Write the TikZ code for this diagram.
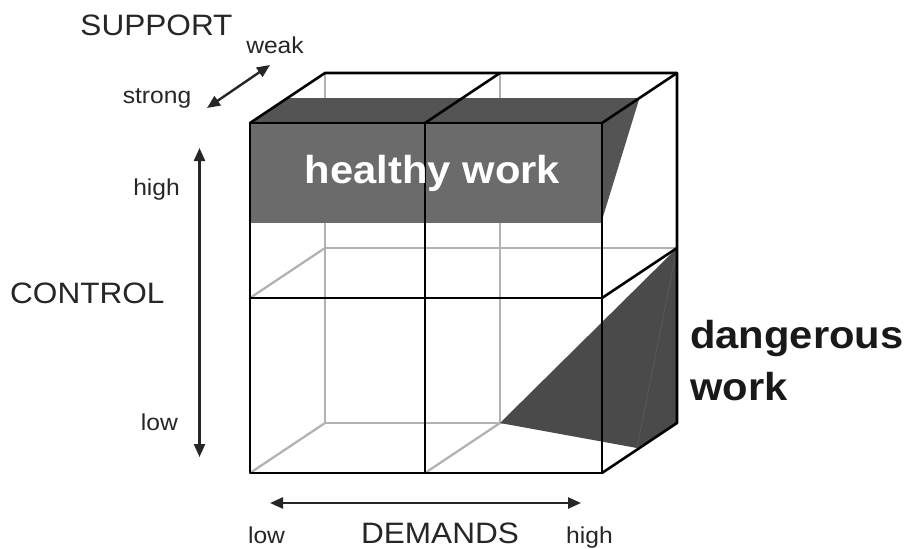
\documentclass[tikz,border=0pt]{standalone}
\usepackage{fontspec}
\setmainfont[FakeStretch=1.07]{Liberation Sans}
\usetikzlibrary{arrows.meta}
\definecolor{edgegray}{gray}{0.7}
\definecolor{boxfront}{gray}{0.42}
\definecolor{boxtop}{gray}{0.33}
\definecolor{dangerfill}{gray}{0.29}
\definecolor{labelink}{gray}{0.15}
\begin{document}
\begin{tikzpicture}[x=1pt,y=-1pt,
  hidden/.style={draw=edgegray,line width=2.3pt},
  edge/.style={draw=black,line width=2.6pt,line cap=round,line join=round},
  axis/.style={draw=labelink,line width=2.4pt,
    {Triangle[length=13pt,width=11pt]}-{Triangle[length=13pt,width=11pt]}},
  lbl/.style={inner sep=0pt,text=labelink,font=\fontsize{23}{27}\selectfont},
  title/.style={inner sep=0pt,text=labelink,font=\fontsize{29.5}{34}\selectfont},
  zone/.style={inner sep=0pt,font=\fontsize{39}{47}\selectfont\bfseries}]
\useasboundingbox (0,0) rectangle (906,549);

% front face corners
\coordinate (fTL) at (250,123);
\coordinate (fTM) at (425,123);
\coordinate (fTR) at (602,123);
\coordinate (fML) at (250,298);
\coordinate (fMM) at (425,298);
\coordinate (fMR) at (602,298);
\coordinate (fBL) at (250,473);
\coordinate (fBM) at (425,473);
\coordinate (fBR) at (602,473);
% back face corners
\coordinate (bTL) at (325,73);
\coordinate (bTM) at (500,73);
\coordinate (bTR) at (677,73);
\coordinate (bML) at (325,248);
\coordinate (bMM) at (500,248);
\coordinate (bMR) at (677,248);
\coordinate (bBL) at (325,423);
\coordinate (bBM) at (500,423);
\coordinate (bBR) at (677,423);

% hidden edges
\draw[hidden] (bTL) -- (bBL);
\draw[hidden] (bTM) -- (bBM);
\draw[hidden] (bML) -- (bMR);
\draw[hidden] (bBL) -- (bBR);
\draw[hidden] (fBL) -- (bBL);
\draw[hidden] (fBM) -- (bBM);
\draw[hidden] (fML) -- (bML);

% healthy work block
\fill[boxfront] (fTL) rectangle (602,223);
\fill[boxtop] (fTL) -- (287.5,98) -- (639.5,98) -- (fTR) -- cycle;
\fill[boxtop] (fTR) -- (639.5,98) -- (602,220) -- cycle;

% dangerous work wedge
\coordinate (dFoot) at (637,448);
\fill[dangerfill] (bBM) -- (bMR) -- (bBR) -- (dFoot) -- cycle;
\draw[gray!70!black,line width=0.7pt] (bMR) -- (dFoot);

% visible edges
\draw[edge] (fTL) -- (fTR) -- (fBR) -- (fBL) -- cycle;
\draw[edge] (fTM) -- (fBM);
\draw[edge] (fML) -- (fMR);
\draw[edge] (fTL) -- (bTL) -- (bTR) -- (bBR);
\draw[edge] (fTM) -- (bTM);
\draw[edge] (fTR) -- (bTR);
\draw[edge] (fMR) -- (bMR);
\draw[edge] (fBR) -- (bBR);

% zone labels
\node[zone,text=white,anchor=base] (healthy) at (432.5,183) {healthy work};
\node[zone,text=black!90,anchor=base west] (danger1) at (690,348) {dangerous};
\node[zone,text=black!90,anchor=base west] (danger2) at (690,400) {work};

% axes
\coordinate (sStrong) at (207,108);
\coordinate (sWeak) at (270,65);
\coordinate (cHigh) at (199.5,148);
\coordinate (cLow) at (199.5,457);
\coordinate (dLow) at (270,503);
\coordinate (dHigh) at (581,503);
\draw[axis] (sStrong) -- (sWeak);
\draw[axis] (cHigh) -- (cLow);
\draw[axis] (dLow) -- (dHigh);

% axis labels
\node[title,anchor=base] (support) at (156.5,35) {SUPPORT};
\node[lbl,anchor=base] (weak) at (275,53) {weak};
\node[lbl,anchor=base] (strong) at (157,103) {strong};
\node[title,anchor=base west] (control) at (10,303) {CONTROL};
\node[lbl,anchor=base east] (chigh) at (180,195) {high};
\node[lbl,anchor=base east] (clow) at (178,430) {low};
\node[title,anchor=base] (demands) at (440,543) {DEMANDS};
\node[lbl,anchor=base] (dlow) at (266.5,543) {low};
\node[lbl,anchor=base] (dhigh) at (589.5,543) {high};
\end{tikzpicture}
\end{document}
